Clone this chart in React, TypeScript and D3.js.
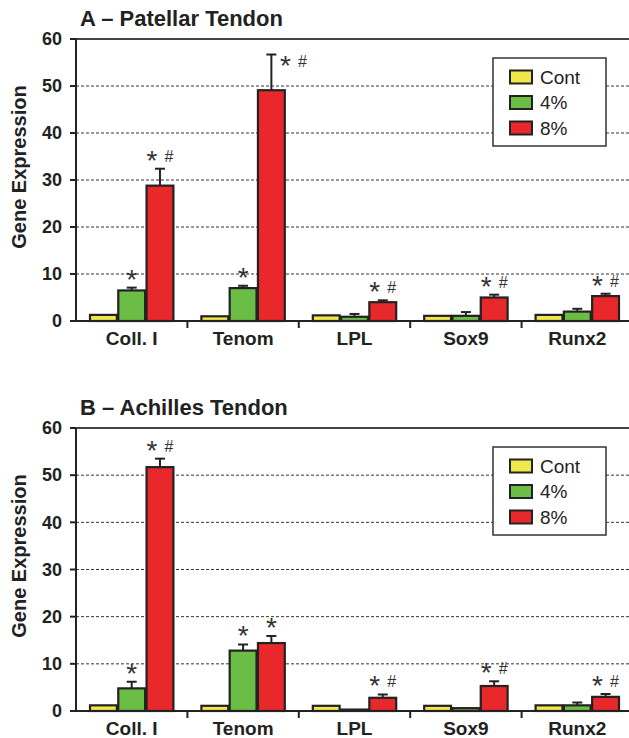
import React from 'react';
import * as d3 from 'd3';

// gene categories and treatment groups
const categories = ['Coll. I', 'Tenom', 'LPL', 'Sox9', 'Runx2'];
const groupNames = ['Cont', '4%', '8%'];
const groupColors = ['#f0e74a', '#6cbd45', '#e8282b'];
const yTicks = [0, 10, 20, 30, 40, 50, 60];

// A - Patellar tendon
const patellarCont = [1.3, 1.0, 1.2, 1.1, 1.3];
const patellarContErr = [0, 0, 0, 0, 0];
const patellar4 = [6.5, 7.0, 0.9, 1.1, 2.0];
const patellar4Err = [0.6, 0.5, 0.6, 0.8, 0.6];
const patellar8 = [28.8, 49.1, 4.0, 5.0, 5.3];
const patellar8Err = [3.6, 7.6, 0.4, 0.6, 0.5];
const patellarMarks4 = ['*', '*', '', '', ''];
const patellarMarks8 = ['* #', '* #', '* #', '* #', '* #'];

// B - Achilles tendon
const achillesCont = [1.2, 1.1, 1.1, 1.1, 1.2];
const achillesContErr = [0, 0, 0, 0, 0];
const achilles4 = [4.8, 12.8, 0.3, 0.6, 1.2];
const achilles4Err = [1.4, 1.3, 0, 0, 0.6];
const achilles8 = [51.7, 14.4, 2.8, 5.3, 3.0];
const achilles8Err = [1.8, 1.5, 0.7, 1.0, 0.6];
const achillesMarks4 = ['*', '*', '', '', ''];
const achillesMarks8 = ['* #', '*', '* #', '* #', '* #'];

const FONT = '"Liberation Sans", Arial, sans-serif';
const INK = '#222';

type PanelProps = {
  title: string;
  top: number;
  bottom: number;
  values: number[][];
  errors: number[][];
  marks: string[][];
};

function Panel({ title, top, bottom, values, errors, marks }: PanelProps) {
  const left = 76, right = 633;
  const x = d3.scaleBand<string>().domain(categories).range([left, right]);
  const inner = d3.scaleBand<string>().domain(groupNames)
    .range([14, x.bandwidth() - 14]).paddingInner(0.05);
  const y = d3.scaleLinear().domain([0, 60]).range([bottom, top]);

  const bars: JSX.Element[] = [];
  const notes: JSX.Element[] = [];
  categories.forEach((cat, ci) => {
    groupNames.forEach((g, gi) => {
      const v = values[gi][ci];
      const e = errors[gi][ci];
      const bx = (x(cat) as number) + (inner(g) as number);
      const bw = inner.bandwidth();
      const cx = bx + bw / 2;
      const errTop = y(v + e);
      bars.push(
        <g key={cat + g}>
          {e > 0 && (
            <g stroke={INK} strokeWidth={2}>
              <line x1={cx} x2={cx} y1={y(v)} y2={errTop} />
              <line x1={cx - 5} x2={cx + 5} y1={errTop} y2={errTop} />
            </g>
          )}
          <rect x={bx} y={y(v)} width={bw} height={y(0) - y(v)}
            fill={groupColors[gi]} stroke={INK} strokeWidth={2.2} />
        </g>
      );
      const m = gi === 0 ? '' : marks[gi - 1][ci];
      if (!m) return;
      // star centre sits ~15px above the error cap, unless it would hit the frame
      let starX = cx, hashX = cx + 9, cy = errTop - 15;
      if (m.includes('#')) starX = cx - 8;
      if (cy < top + 10) {
        starX = cx + 14; hashX = cx + 31; cy = errTop + 4;
      }
      notes.push(
        <g key={'m' + cat + g} fill="#333" fontFamily={FONT}>
          <text x={starX} y={cy + 16} fontSize={28} textAnchor="middle">*</text>
          {m.includes('#') && (
            <text x={hashX} y={cy + 8} fontSize={16} textAnchor="middle">#</text>
          )}
        </g>
      );
    });
  });

  return (
    <g>
      <text x={80} y={top - 13} fontFamily={FONT} fontWeight="bold" fontSize={22} fill={INK}>{title}</text>
      {yTicks.filter(t => t > 0 && t < 60).map(t => (
        <line key={'g' + t} x1={left} x2={right} y1={y(t)} y2={y(t)}
          stroke="#333" strokeWidth={1} strokeDasharray="3,2" />
      ))}
      <line x1={left} x2={right} y1={y(60)} y2={y(60)} stroke="#444" strokeWidth={2} />
      {yTicks.map(t => (
        <g key={'t' + t}>
          <line x1={left - 6} x2={left} y1={y(t)} y2={y(t)} stroke={INK} strokeWidth={2} />
          <text x={62} y={y(t)} dy="0.35em" textAnchor="end" fontFamily={FONT}
            fontWeight="bold" fontSize={18} fill={INK}>{t}</text>
        </g>
      ))}
      <text transform={`translate(19,${top + 128}) rotate(-90)`} textAnchor="middle"
        dy="0.35em" fontFamily={FONT} fontWeight="bold" fontSize={20} fill={INK}>Gene Expression</text>
      {categories.map((c, i) => (
        <g key={'c' + c}>
          {i > 0 && <line x1={x(c)} x2={x(c)} y1={bottom} y2={bottom + 7} stroke={INK} strokeWidth={2} />}
          <text x={(x(c) as number) + x.bandwidth() / 2} y={bottom + 24} textAnchor="middle"
            fontFamily={FONT} fontWeight="bold" fontSize={19} fill={INK}>{c}</text>
        </g>
      ))}
      {bars}
      <line x1={left} x2={right} y1={bottom} y2={bottom} stroke={INK} strokeWidth={2} />
      <line x1={left} x2={left} y1={top} y2={bottom} stroke={INK} strokeWidth={2} />
      {notes}
      <g transform={`translate(493,${top + 19})`}>
        <rect width={113} height={88} fill="#fff" stroke="#333" strokeWidth={1.5} />
        {groupNames.map((g, i) => (
          <g key={'l' + g} transform={`translate(0,${19 + i * 25.5})`}>
            <rect x={17} y={-6.5} width={22} height={13} fill={groupColors[i]} stroke={INK} strokeWidth={2} />
            <text x={47} dy="0.36em" fontFamily={FONT} fontSize={19} fill={INK}>{g}</text>
          </g>
        ))}
      </g>
    </g>
  );
}

export default function App() {
  return (
    <svg width={629} height={738} style={{ position: 'absolute', left: 0, top: 0, background: '#fff' }}>
      <Panel title="A – Patellar Tendon" top={39} bottom={321}
        values={[patellarCont, patellar4, patellar8]}
        errors={[patellarContErr, patellar4Err, patellar8Err]}
        marks={[patellarMarks4, patellarMarks8]} />
      <Panel title="B – Achilles Tendon" top={428} bottom={711}
        values={[achillesCont, achilles4, achilles8]}
        errors={[achillesContErr, achilles4Err, achilles8Err]}
        marks={[achillesMarks4, achillesMarks8]} />
    </svg>
  );
}
